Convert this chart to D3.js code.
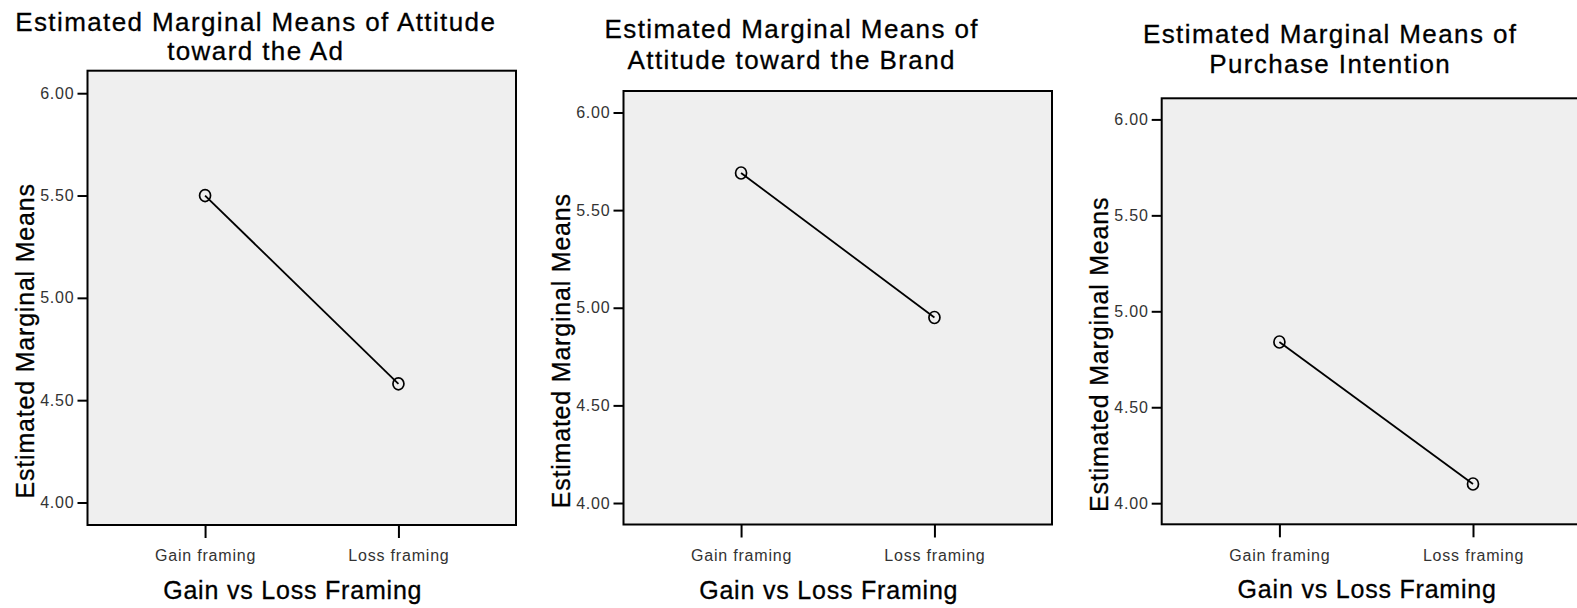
<!DOCTYPE html>
<html>
<head>
<meta charset="utf-8">
<script src="https://cdn.jsdelivr.net/npm/d3@7"></script>
<style>
  body { margin: 0; background: #fff; }
  svg { display: block; font-family: "Liberation Sans", Arial, sans-serif; }
</style>
</head>
<body>
<svg id="chart" width="1577" height="608"></svg>
<script>
// Estimated marginal means for gain vs loss framing, one panel per measure
const categories = ["Gain framing", "Loss framing"];
const adMeans = [5.50, 4.58];
const brandMeans = [5.69, 4.95];
const purchaseMeans = [4.84, 4.10];
const yTicks = [4.00, 4.50, 5.00, 5.50, 6.00];
const yDomain = [3.89, 6.11];
const titles = [
    ["Estimated Marginal Means of Attitude", "toward the Ad"],
    ["Estimated Marginal Means of", "Attitude toward the Brand"],
    ["Estimated Marginal Means of", "Purchase Intention"]
];
const xTitle = "Gain vs Loss Framing";
const yTitle = "Estimated Marginal Means";

const series = [adMeans, brandMeans, purchaseMeans];

// plot box of each panel in page pixels, plus title baselines
const boxes = [
    { x: 87.5, y: 70.7, w: 428.5, h: 454.3, titleY: [31, 60] },
    { x: 623.5, y: 91, w: 428.5, h: 433.5, titleY: [38, 69] },
    { x: 1161.7, y: 98.3, w: 429, h: 426, titleY: [43, 73] }
];

const svg = d3.select("#chart");

function styleAxis(sel) {
    sel.select(".domain").remove();
    sel.selectAll(".tick line").attr("stroke", "#000").attr("stroke-width", 2);
    sel.selectAll(".tick text")
        .attr("fill", "#333")
        .style("font-size", "16px")
        .style("letter-spacing", "0.8px")
        .style("font-family", "\"Liberation Sans\", Arial, sans-serif");
}

boxes.forEach((b, i) => {
    const values = series[i];
    const data = categories.map((c, j) => ({ cat: c, value: values[j] }));

    const x = d3.scalePoint().domain(categories).range([0, b.w]).padding(0.608);
    const y = d3.scaleLinear().domain(yDomain).range([b.h, 0]);

    const g = svg.append("g").attr("transform", `translate(${b.x},${b.y})`);

    g.append("rect")
        .attr("width", b.w)
        .attr("height", b.h)
        .attr("fill", "#efefef");

    g.append("path")
        .datum(data)
        .attr("fill", "none")
        .attr("stroke", "#000")
        .attr("stroke-width", 1.8)
        .attr("d", d3.line().x(d => x(d.cat)).y(d => y(d.value)));

    g.selectAll("ellipse")
        .data(data)
        .enter()
        .append("ellipse")
        .attr("cx", d => x(d.cat))
        .attr("cy", d => y(d.value))
        .attr("rx", 5.5)
        .attr("ry", 6)
        .attr("fill", "none")
        .attr("stroke", "#000")
        .attr("stroke-width", 1.7);

    g.append("rect")
        .attr("width", b.w)
        .attr("height", b.h)
        .attr("fill", "none")
        .attr("stroke", "#000")
        .attr("stroke-width", 2);

    g.append("g")
        .call(d3.axisLeft(y).tickValues(yTicks).tickFormat(d3.format(".2f")).tickSize(10).tickPadding(3))
        .call(styleAxis);

    g.append("g")
        .attr("transform", `translate(0,${b.h})`)
        .call(d3.axisBottom(x).tickSize(13).tickPadding(12))
        .call(styleAxis);

    // y axis title
    g.append("text")
        .attr("transform", `translate(-54,${b.h / 2 + 43}) rotate(-90)`)
        .attr("text-anchor", "middle")
        .attr("stroke", "#000")
        .attr("stroke-width", 0.3)
        .style("font-size", "25px")
        .style("letter-spacing", "0.8px")
        .text(yTitle);

    // x axis title
    g.append("text")
        .attr("x", b.w / 2 - 9)
        .attr("y", b.h + 74)
        .attr("text-anchor", "middle")
        .attr("stroke", "#000")
        .attr("stroke-width", 0.3)
        .style("font-size", "25px")
        .style("letter-spacing", "0.8px")
        .text(xTitle);

    // chart title, two lines
    titles[i].forEach((line, k) => {
        svg.append("text")
            .attr("x", b.x + b.w / 2 - 46)
            .attr("y", b.titleY[k])
            .attr("text-anchor", "middle")
            .attr("stroke", "#000")
            .attr("stroke-width", 0.3)
            .style("font-size", "26px")
            .style("letter-spacing", "1.4px")
            .text(line);
    });
});
</script>
</body>
</html>
